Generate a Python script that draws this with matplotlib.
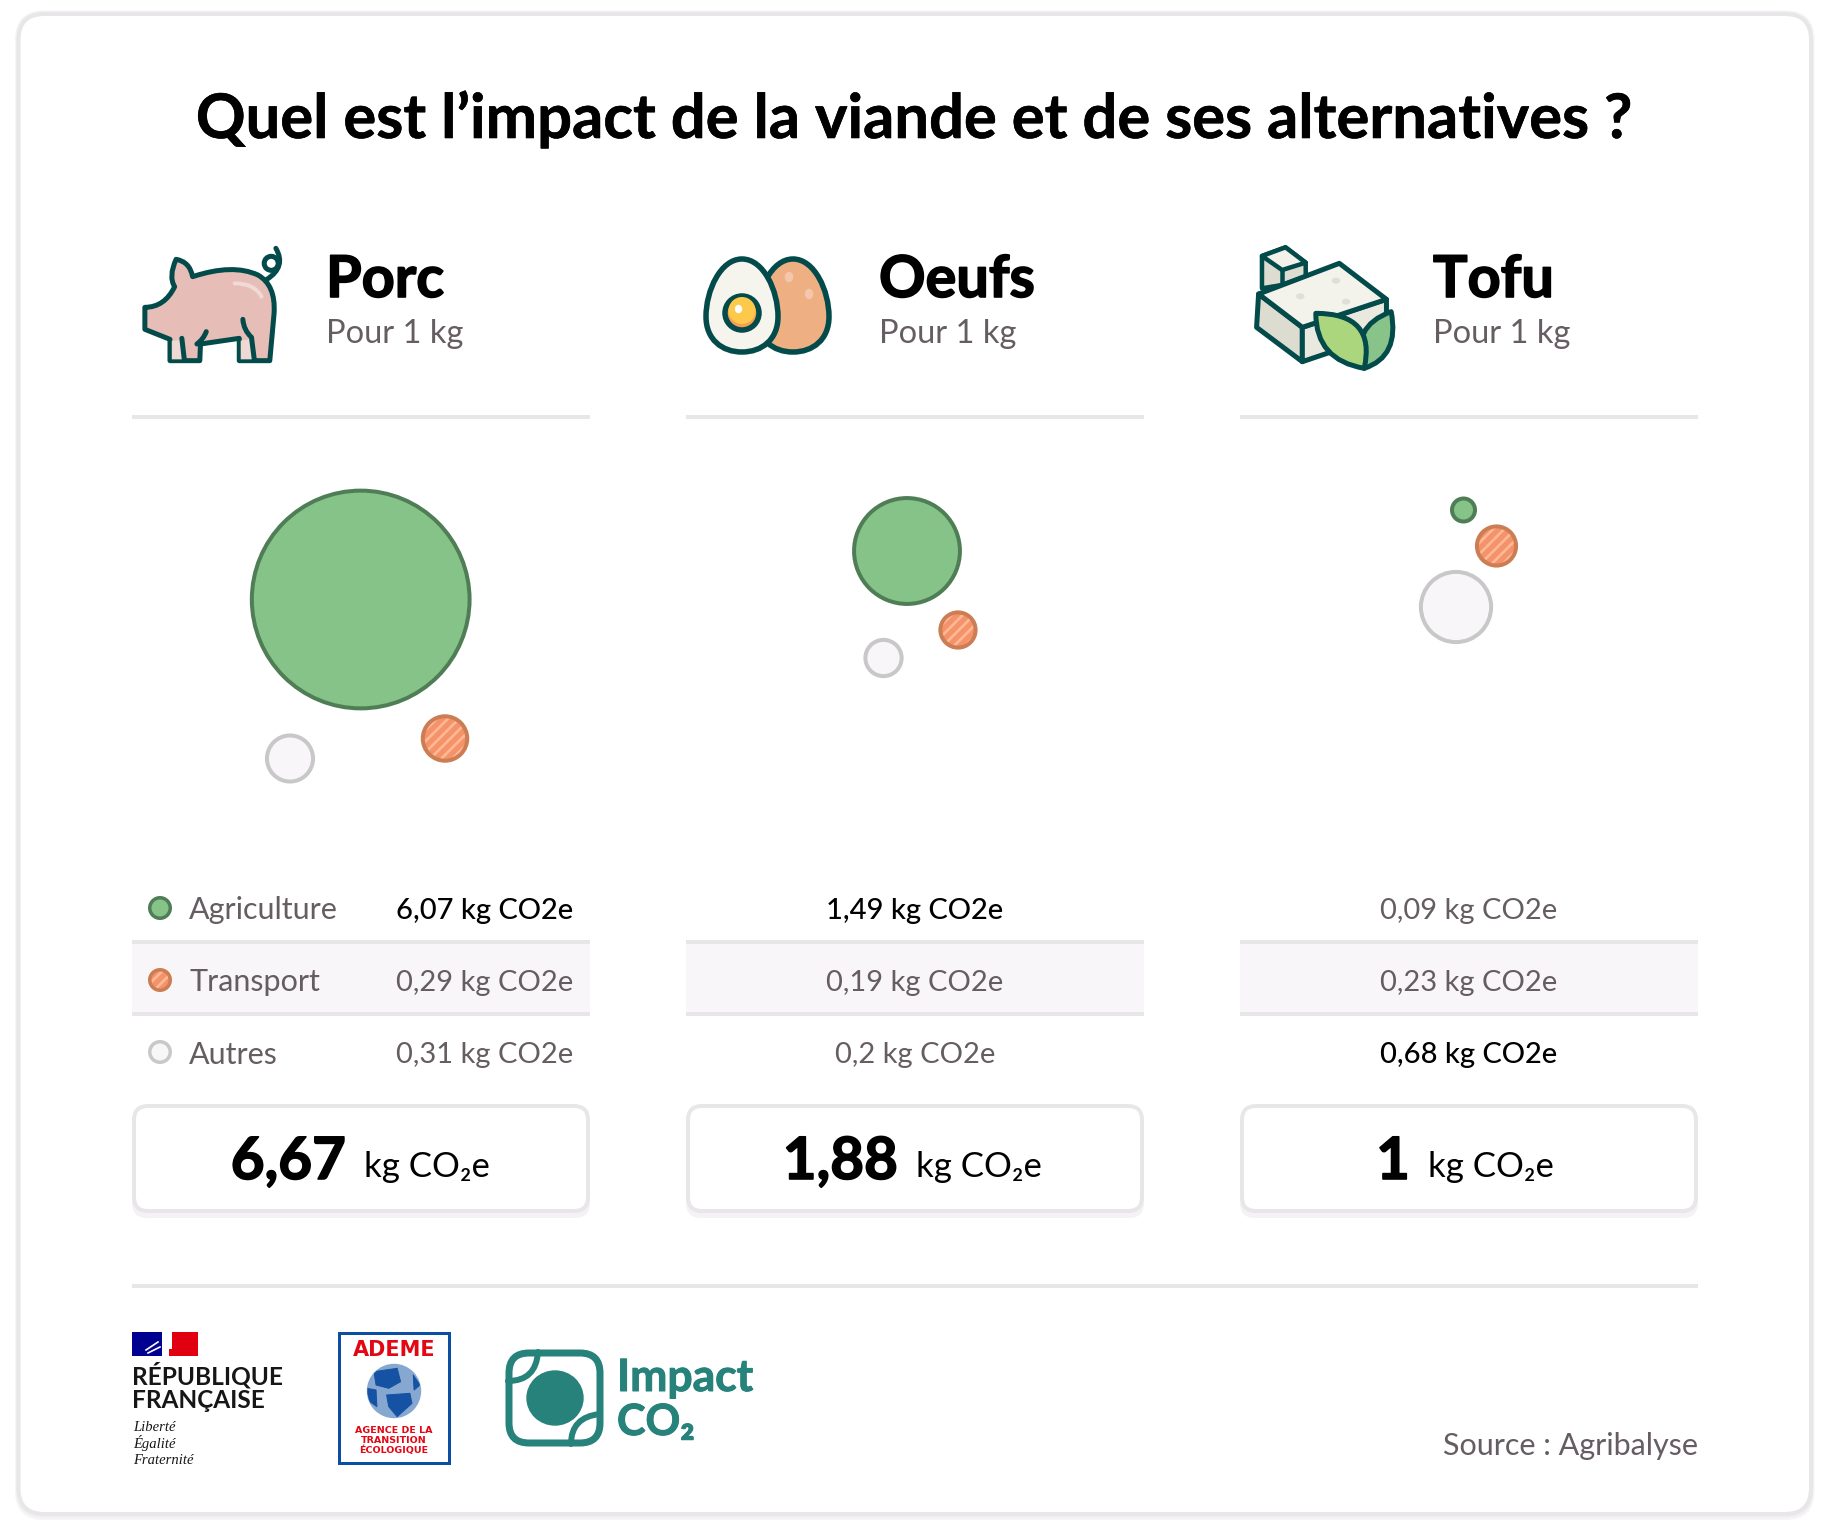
import numpy as np
import matplotlib
matplotlib.use("Agg")
import matplotlib.pyplot as plt
import matplotlib.patheffects as pe
from matplotlib.patches import Circle, Ellipse, FancyBboxPatch, PathPatch, Rectangle
from matplotlib.path import Path

# DATA
foods = ["Porc", "Oeufs", "Tofu"]
categories = ["Agriculture", "Transport", "Autres"]
porc_values = [6.07, 0.29, 0.31]
oeufs_values = [1.49, 0.19, 0.2]
tofu_values = [0.09, 0.23, 0.68]
totals = [6.67, 1.88, 1]
subtitle = "Pour 1 kg"
title = "Quel est l’impact de la viande et de ses alternatives ?"
source = "Source : Agribalyse"

# LAYOUT (pixels of the final picture)
W, H = 1830, 1536
PX = 0.72
col_left = [132, 686, 1240]
COL_W = 458
bubble_centers = [
    [(360.7, 599.5), (445, 738.5), (290, 758.5)],
    [(907, 551), (958, 630), (883.5, 658)],
    [(1463.5, 510), (1496.5, 546), (1456, 607)],
]
BUBBLE_K = 45
name_x = [326, 879, 1433]
unit_x = [364, 916, 1428]
row_y = [908, 980, 1052]

TEAL = "#034a4a"
LOGO = "#26827a"
LINE = "#e9e6e9"
GREY = "#665d63"
BAND = "#f8f6f8"

plt.rcParams["font.family"] = ["Lato", "DejaVu Sans"]
plt.rcParams["hatch.linewidth"] = 1.9

fig = plt.figure(figsize=(W / 100, H / 100), dpi=100)
ax = fig.add_axes([0, 0, 1, 1])
ax.set_xlim(0, W)
ax.set_ylim(H, 0)
ax.axis("off")


def make_path(cmds, fx=lambda x: x, fy=lambda y: y):
    verts, codes = [], []
    for c in cmds:
        pts = [(fx(c[i]), fy(c[i + 1])) for i in range(1, len(c) - 1, 2)]
        if c[0] == "M":
            verts += pts
            codes += [Path.MOVETO]
        elif c[0] == "L":
            verts += pts
            codes += [Path.LINETO]
        elif c[0] == "Q":
            verts += pts
            codes += [Path.CURVE3, Path.CURVE3]
        elif c[0] == "C":
            verts += pts
            codes += [Path.CURVE4] * 3
        elif c[0] == "Z":
            verts += [verts[-1]]
            codes += [Path.CLOSEPOLY]
    return Path(verts, codes)


def shape(cmds, fx, fy, fc="none", ec=TEAL, lw=4.5, z=5):
    p = PathPatch(make_path(cmds, fx, fy), facecolor=fc, edgecolor=ec,
                  linewidth=lw * PX, joinstyle="round", capstyle="round", zorder=z)
    ax.add_patch(p)
    return p


def round_box(x0, y0, x1, y1, r, fc, ec, lw, z=1):
    ax.add_patch(FancyBboxPatch((x0, y0), x1 - x0, y1 - y0,
                                boxstyle=f"round,pad=0,rounding_size={r}",
                                facecolor=fc, edgecolor=ec, linewidth=lw * PX, zorder=z))


def heavy(txt, px):
    # Lato tops out at bold here, so thicken the strokes a bit
    txt.set_path_effects([pe.withStroke(linewidth=px * PX, foreground=txt.get_color())])
    return txt


def bubble(i, x, y, r, lw=4, z=3):
    if i == 0:
        ax.add_patch(Circle((x, y), r - lw / 2, facecolor="#86c388", edgecolor="#4f7d55",
                            linewidth=lw * PX, zorder=z))
    elif i == 1:
        ax.add_patch(Circle((x, y), r - lw / 2, facecolor="#f4936a", edgecolor="#ffb896",
                            linewidth=0, hatch="///", zorder=z))
        ax.add_patch(Circle((x, y), r - lw / 2, facecolor="none", edgecolor="#cc7d54",
                            linewidth=lw * PX, zorder=z + 1))
    else:
        ax.add_patch(Circle((x, y), r - lw / 2, facecolor="#f8f6f8", edgecolor="#c9c8c8",
                            linewidth=lw * PX, zorder=z))


# CARD
for k, a in zip([5, 3], ["#f6f5f6", "#f1eff1"]):
    round_box(18.5 - k / 2, 14 - k / 2, 1811 + k / 2, 1514 + k, 28, a, a, 2, z=0)
round_box(18.5, 14, 1811, 1514, 26, "white", LINE, 4, z=1)

# TITLE
heavy(ax.text(915, 138, title, fontsize=44.3, fontweight="bold", color="black", ha="center", va="baseline", zorder=5), 0.6)

# PIG
fx = lambda x: 100 + x / 2.786
fy = lambda y: 220 + y / 3
shape([("M", 212, 118), ("Q", 250, 125, 258, 170), ("Q", 370, 130, 440, 165), ("Q", 490, 195, 485, 280),
       ("L", 473, 422), ("L", 388, 422), ("L", 388, 355), ("L", 280, 372), ("L", 278, 422), ("L", 195, 422),
       ("L", 195, 358), ("L", 125, 328), ("L", 125, 262), ("Q", 180, 262, 208, 200), ("Q", 190, 170, 212, 118),
       ("Z",)], fx, fy, fc="#e7bdb7", lw=5)
shape([("M", 200, 362), ("L", 226, 360), ("L", 232, 418), ("L", 200, 418), ("Z",)], fx, fy, fc="#eed9d4", ec="none", lw=0)
shape([("M", 392, 362), ("L", 418, 358), ("L", 425, 418), ("L", 392, 418), ("Z",)], fx, fy, fc="#eed9d4", ec="none", lw=0)
shape([("M", 398, 298), ("Q", 400, 330, 422, 352), ("L", 430, 420)], fx, fy, lw=5)
shape([("M", 228, 355), ("L", 235, 420)], fx, fy, lw=5)
shape([("M", 296, 335), ("Q", 288, 358, 270, 372)], fx, fy, lw=5)
shape([("M", 375, 190), ("Q", 430, 190, 450, 230)], fx, fy, ec="#f1d9d5", lw=4)
shape([("M", 490, 85), ("Q", 520, 140, 465, 178)], fx, fy, lw=5)
ax.add_patch(Circle((fx(477), fy(130)), 7, facecolor="white", edgecolor=TEAL, linewidth=5 * PX, zorder=5))


# EGGS
def egg_cmds(cx, top, bot, hw):
    mid = top + (bot - top) * 0.62
    return [("M", cx, top), ("C", cx + hw * 0.6, top, cx + hw, mid - (mid - top) * 0.45, cx + hw, mid),
            ("C", cx + hw, bot - (bot - mid) * 0.35, cx + hw * 0.55, bot, cx, bot),
            ("C", cx - hw * 0.55, bot, cx - hw, bot - (bot - mid) * 0.35, cx - hw, mid),
            ("C", cx - hw, mid - (mid - top) * 0.45, cx - hw * 0.6, top, cx, top), ("Z",)]


same = lambda v: v
shape(egg_cmds(793, 259, 352, 36), same, same, fc="#eeb083", lw=5.5)
ax.add_patch(Ellipse((789, 277), 7, 9, color="#f4c7ac", zorder=6))
ax.add_patch(Ellipse((809, 294), 7, 9, color="#f4c7ac", zorder=6))
shape(egg_cmds(742, 259, 352, 36), same, same, fc="#f5f5ee", lw=5.5, z=7)
ax.add_patch(Circle((742, 313), 17, facecolor="#f79e55", edgecolor=TEAL, linewidth=5.5 * PX, zorder=8))
ax.add_patch(Circle((742, 310.5), 13.5, facecolor="#fcc94a", edgecolor="none", zorder=9))
ax.add_patch(Ellipse((738.5, 309), 6, 7, color="white", zorder=10))

# TOFU
fx = lambda x: 676.5 + x / 1.486
shape([("M", 905, 82), ("L", 935, 128), ("L", 935, 170), ("L", 900, 195), ("L", 870, 205), ("L", 870, 108), ("Z",)], fx, fy, fc="#dcdcd0", lw=4.5)
shape([("M", 905, 82), ("L", 935, 128), ("L", 900, 150), ("L", 870, 108), ("Z",)], fx, fy, fc="#f2f2ea", lw=4.5)
shape([("M", 900, 150), ("L", 900, 195)], fx, fy, lw=4.5)
shape([("M", 865, 222), ("L", 930, 322), ("L", 930, 425), ("L", 862, 322), ("Z",)], fx, fy, fc="#dcdcd0", lw=5, z=6)
shape([("M", 930, 322), ("L", 1055, 238), ("L", 1055, 340), ("L", 930, 425), ("Z",)], fx, fy, fc="#e9e9df", lw=5, z=6)
shape([("M", 985, 130), ("L", 1055, 238), ("L", 930, 322), ("L", 865, 222), ("Z",)], fx, fy, fc="#f3f3ec", lw=5, z=6)
for dx, dy in [(980, 182), (927, 229), (995, 245)]:
    ax.add_patch(Ellipse((fx(dx), fy(dy)), 7, 4.5, color="#dfdfd6", zorder=7))
shape([("M", 1062, 275), ("Q", 1075, 410, 1022, 445), ("Q", 1000, 320, 1062, 275), ("Z",)], fx, fy, fc="#88c48a", lw=5, z=8)
shape([("M", 950, 280), ("Q", 1040, 280, 1022, 445), ("Q", 950, 420, 950, 280), ("Z",)], fx, fy, fc="#acd67e", lw=5, z=9)

# HEADERS, RULES, TABLES
values = [porc_values, oeufs_values, tofu_values]
for c in range(3):
    left = col_left[c]
    right = left + COL_W
    mid = left + COL_W / 2
    heavy(ax.text(name_x[c], 297, foods[c], fontsize=41.5, fontweight="bold", color="black", va="baseline", zorder=5), 1.6)
    ax.text(name_x[c], 343, subtitle, fontsize=23.5, color=GREY, va="baseline", zorder=5)
    ax.add_patch(Rectangle((left, 415), COL_W, 4, color=LINE, lw=0, zorder=2))

    for i, v in enumerate(values[c]):
        cx, cy = bubble_centers[c][i]
        bubble(i, cx, cy, BUBBLE_K * np.sqrt(v))

    ax.add_patch(Rectangle((left, 942), COL_W, 72, color=BAND, lw=0, zorder=2))
    ax.add_patch(Rectangle((left, 940), COL_W, 4, color=LINE, lw=0, zorder=2))
    ax.add_patch(Rectangle((left, 1012), COL_W, 4, color=LINE, lw=0, zorder=2))

    top = int(np.argmax(values[c]))
    for i, v in enumerate(values[c]):
        label = f"{v:g}".replace(".", ",") + " kg CO2e"
        color = "black" if i == top else GREY
        weight = "medium" if i == top else "regular"
        if c == 0:
            ax.text(573, row_y[i], label, fontsize=21, color=color, fontweight=weight,
                    ha="right", va="center_baseline", zorder=5)
        else:
            ax.text(mid, row_y[i], label, fontsize=21, color=color, fontweight=weight,
                    ha="center", va="center_baseline", zorder=5)

    round_box(left + 1, 1110, right - 1, 1217, 14, "#f4f2f4", "#f4f2f4", 2, z=2)
    round_box(left + 2, 1106, right - 2, 1211, 14, "white", LINE, 4, z=3)
    heavy(ax.text(unit_x[c] - 18, 1179, f"{totals[c]:g}".replace(".", ","), fontsize=42, fontweight="bold",
                  color="black", ha="right", va="baseline", zorder=5), 1.6)
    ax.text(unit_x[c], 1177, "kg CO₂e", fontsize=25, color="black", va="baseline", zorder=5)

# LEGEND
for i, cat in enumerate(categories):
    bubble(i, 160, row_y[i], 12, lw=3.5, z=5)
    ax.text(189, row_y[i], cat, fontsize=22, color=GREY, va="center_baseline", zorder=5)

# FOOTER
ax.add_patch(Rectangle((132, 1284), 1566, 4, color=LINE, lw=0, zorder=2))
ax.text(1698, 1455, source, fontsize=22, color=GREY, ha="right", va="baseline", zorder=5)

# Republique francaise logo
ax.add_patch(Rectangle((132, 1332), 30, 24, color="#000091", lw=0, zorder=5))
ax.add_patch(Rectangle((172, 1332), 26, 24, color="#e1000f", lw=0, zorder=5))
ax.add_patch(Rectangle((169, 1349), 4, 7, color="#e1000f", lw=0, zorder=5))
ax.plot([146, 158], [1350, 1342], color="white", lw=1.2, zorder=6)
ax.plot([148, 160], [1353, 1347], color="white", lw=1.2, zorder=6)
ax.text(132, 1384, "RÉPUBLIQUE", fontsize=17.6, fontweight="bold", color="#161616", va="baseline", zorder=5)
ax.text(132, 1408, "FRANÇAISE", fontsize=17.6, fontweight="bold", color="#161616", va="baseline", zorder=5)
for t, y in zip(["Liberté", "Égalité", "Fraternité"], [1431, 1448, 1464]):
    ax.text(133, y, t, fontsize=10.5, family="Liberation Serif", style="italic", color="#161616", va="baseline", zorder=5)

# ADEME logo
ax.add_patch(Rectangle((339, 1333), 110, 130, facecolor="white", edgecolor="#0b4ea2", linewidth=3 * PX, zorder=5))
ax.text(394, 1356, "ADEME", fontsize=15, fontweight="bold", family="DejaVu Sans", color="#e30613", ha="center", va="baseline", zorder=6)
globe = Ellipse((394, 1391), 53, 53, color="#86a8d0", zorder=6)
ax.add_patch(globe)
fx5 = lambda x: 118 + x / 2.364
fy5 = lambda y: 1310 + y / 3
for blob in [
    [("M", 605, 185), ("L", 660, 175), ("L", 668, 215), ("L", 640, 235), ("L", 610, 225), ("Z",)],
    [("M", 635, 255), ("L", 690, 250), ("L", 695, 280), ("L", 660, 320), ("L", 640, 290), ("Z",)],
    [("M", 588, 235), ("L", 610, 240), ("L", 612, 290), ("L", 590, 270), ("Z",)],
    [("M", 698, 195), ("L", 714, 225), ("L", 700, 240), ("Z",)],
]:
    land = shape(blob, fx5, fy5, fc="#1552a3", ec="#1552a3", lw=1, z=7)
    land.set_clip_path(globe)
for t, y in zip(["AGENCE DE LA", "TRANSITION", "ÉCOLOGIQUE"], [1433, 1443, 1453]):
    ax.text(394, y, t, fontsize=6.8, fontweight="bold", family="DejaVu Sans", color="#e30613", ha="center", va="baseline", zorder=6)

# Impact CO2 logo
round_box(509, 1353, 600, 1443, 20, "white", LOGO, 7, z=5)
ax.add_patch(Ellipse((555, 1398), 56, 54, color=LOGO, zorder=6))
shape([("M", 508, 1381), ("Q", 536, 1381, 538, 1352)], same, same, ec=LOGO, lw=6, z=7)
shape([("M", 571, 1444), ("Q", 571, 1417, 600, 1414)], same, same, ec=LOGO, lw=6, z=7)
heavy(ax.text(617, 1391, "Impact", fontsize=32, fontweight="bold", color=LOGO, va="baseline", zorder=6), 1)
heavy(ax.text(617, 1435, "CO₂", fontsize=31, fontweight="bold", color=LOGO, va="baseline", zorder=6), 1)

fig.savefig("out.png", dpi=100, facecolor="white")
